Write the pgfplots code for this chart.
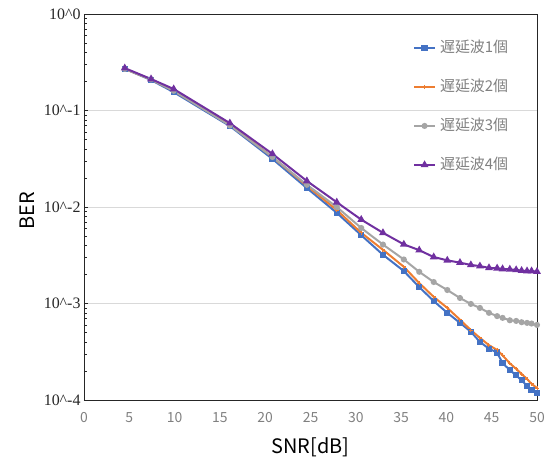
\documentclass[border=0pt]{standalone}
\usepackage{pgfplots}
\pgfplotsset{compat=1.18}
\usepackage{fontspec}
\newfontfamily\jp{Noto Sans CJK JP}
\newfontfamily\tnr{Liberation Serif}
\definecolor{c1}{HTML}{4472C4}
\definecolor{c2}{HTML}{ED7D31}
\definecolor{c3}{HTML}{A5A5A5}
\definecolor{c4}{HTML}{7030A0}
\definecolor{tickgray}{HTML}{808080}
\definecolor{axgray}{HTML}{262626}
\begin{document}
\begin{tikzpicture}
\useasboundingbox (-84bp,-62bp) rectangle (468bp,400bp);
\begin{axis}[
    scale only axis,
    width=453bp, height=386bp,
    xmin=0, xmax=50,
    ymode=log, ymin=1e-4, ymax=1,
    xtick={0,5,...,50},
    xticklabels={0,5,10,15,20,25,30,35,40,45,50},
    xticklabel style={font=\jp\fontsize{14}{16}\selectfont, text=tickgray, yshift=-9bp},
    xtick style={draw=none},
    ytick={1e-4,1e-3,1e-2,1e-1,1},
    yticklabels={10\textasciicircum-4,10\textasciicircum-3,10\textasciicircum-2,10\textasciicircum-1,10\textasciicircum0},
    minor ytick={2e-4,3e-4,4e-4,5e-4,6e-4,7e-4,8e-4,9e-4,
                 2e-3,3e-3,4e-3,5e-3,6e-3,7e-3,8e-3,9e-3,
                 2e-2,3e-2,4e-2,5e-2,6e-2,7e-2,8e-2,9e-2,
                 0.2,0.3,0.4,0.5,0.6,0.7,0.8,0.9},
    yticklabel style={font=\tnr\fontsize{16}{18}\selectfont, text=axgray},
    ytick pos=left,
    tick align=inside,
    major tick length=4bp,
    minor tick length=3bp,
    every tick/.style={axgray, line width=0.6bp},
    ymajorgrids,
    grid style={color=black!15, line width=0.8bp},
    axis line style={axgray, line width=0.9bp},
    xlabel={SNR[dB]},
    ylabel={BER},
    every axis x label/.style={at={(axis description cs:0.5,0)}, yshift=-47bp, anchor=center, font=\jp\fontsize{20}{24}\selectfont},
    every axis y label/.style={at={(axis description cs:0,0.49)}, xshift=-57bp, rotate=90, anchor=center, font=\jp\fontsize{20}{24}\selectfont},
    legend style={at={(axis description cs:0.726,0.932)}, anchor=north west, draw=none, fill=none,
        inner sep=0pt, row sep=24bp, column sep=4bp,
        nodes={inner sep=0pt, text height=12bp, text depth=3bp},
        font=\jp\fontsize{15}{17}\selectfont, text=tickgray},
    legend cell align=left,
    legend image code/.code={\draw[mark repeat=2, mark phase=2, #1] plot coordinates {(0bp,0bp) (10.5bp,0bp) (21bp,0bp)};},
    every axis plot/.append style={line width=2bp},
]
\addplot[c1, mark=square*, mark size=2.1bp] coordinates {
(4.5,0.27) (7.4,0.207) (9.9,0.155) (16.1,0.069) (20.8,0.0315) (24.6,0.0157)
(27.9,0.0087) (30.6,0.0051) (33.0,0.0032) (35.3,0.00217) (37.0,0.00148)
(38.6,0.00106) (40.1,0.00080) (41.5,0.00063) (42.7,0.00051) (43.7,0.00040)
(44.7,0.00034) (45.6,0.00031) (46.2,0.00024) (47.0,0.000205) (47.7,0.00018)
(48.3,0.00016) (48.9,0.00014) (49.4,0.000127) (50.0,0.000118)
};
\addlegendentry{遅延波1個}
\addplot[c2, mark=+, mark size=2bp, mark options={line width=1bp}] coordinates {
(4.5,0.27) (7.4,0.21) (9.9,0.16) (16.1,0.071) (20.8,0.033) (24.6,0.0166)
(27.9,0.0093) (30.6,0.0054) (33.0,0.0036) (35.3,0.0024) (37.0,0.00163)
(38.6,0.00117) (40.1,0.00090) (41.5,0.00068) (42.7,0.00053) (43.7,0.00044)
(44.7,0.00037) (45.6,0.00033) (46.2,0.00029) (47.0,0.00024) (47.7,0.00021)
(48.3,0.000186) (48.9,0.000165) (49.4,0.000147) (50.0,0.000133)
};
\addlegendentry{遅延波2個}
\addplot[c3, mark=*, mark size=2bp] coordinates {
(4.5,0.27) (7.4,0.21) (9.9,0.16) (16.1,0.070) (20.8,0.033) (24.6,0.017)
(27.9,0.0100) (30.6,0.00606) (33.0,0.00408) (35.3,0.00286) (37.0,0.00213)
(38.6,0.00167) (40.1,0.00138) (41.5,0.00114) (42.7,0.00099) (43.7,0.00090)
(44.7,0.00080) (45.6,0.00074) (46.2,0.00071) (47.0,0.00067) (47.7,0.00066)
(48.3,0.00064) (48.9,0.00063) (49.4,0.00062) (50.0,0.00060)
};
\addlegendentry{遅延波3個}
\addplot[c4, mark=triangle*, mark size=2.6bp] coordinates {
(4.5,0.275) (7.4,0.212) (9.9,0.167) (16.1,0.074) (20.8,0.0355) (24.6,0.0186)
(27.9,0.0112) (30.6,0.0074) (33.0,0.0054) (35.3,0.0041) (37.0,0.00357)
(38.6,0.00303) (40.1,0.0028) (41.5,0.00265) (42.7,0.00251) (43.7,0.00244)
(44.7,0.00234) (45.6,0.00232) (46.2,0.00228) (47.0,0.00226) (47.7,0.00223)
(48.3,0.00219) (48.9,0.00217) (49.4,0.00217) (50.0,0.00214)
};
\addlegendentry{遅延波4個}
\end{axis}
\end{tikzpicture}
\end{document}
